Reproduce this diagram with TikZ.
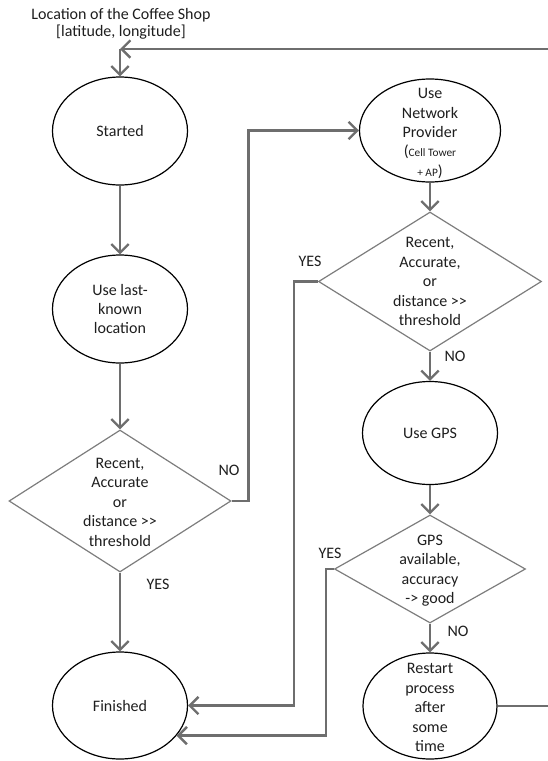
\documentclass[tikz,border=0pt]{standalone}
\usepackage{fontspec}
\setmainfont{Carlito}
\usetikzlibrary{shapes.geometric,arrows.meta}
\definecolor{connc}{RGB}{110,110,110}
\definecolor{diac}{RGB}{125,125,125}
\definecolor{txtc}{RGB}{30,30,30}
\begin{document}
\begin{tikzpicture}[x=0.75pt,y=-0.75pt,
  font=\fontsize{12}{14.6}\selectfont, text=txtc,
  elli/.style={ellipse,draw=black,line width=0.9pt,inner sep=0pt},
  dia/.style={diamond,draw=diac,line width=0.9pt,inner sep=0pt},
  flow/.style={draw=connc,line width=1.8pt,-{Straight Barb[length=6.5pt,width=13pt]}},
  lbl/.style={align=center,inner sep=0pt}]
\useasboundingbox (0,0) rectangle (547,761);

% title and loop corner
\node[lbl,font=\fontsize{12}{12.75}\selectfont] (title) at (121,23.5)
  {Location of the Coffee Shop\\{[latitude, longitude]}};
\coordinate (loopc) at (120,49);

% left column
\node[elli,minimum width=135*0.75pt,minimum height=108*0.75pt] (st) at (120,131) {Started};
\node[elli,minimum width=135*0.75pt,minimum height=108*0.75pt,align=center] (ul) at (120,309)
  {Use last-\\known\\location};
\node[dia,minimum width=222*0.75pt,minimum height=142*0.75pt] (d1) at (120,501) {};
\node[lbl] (d1t) at (120,502) {Recent,\\Accurate\\or\\distance >\kern0pt>\\threshold};
\node[elli,minimum width=135*0.75pt,minimum height=107*0.75pt] (fin) at (120,705.5) {Finished};

% right column
\node[elli,minimum width=141*0.75pt,minimum height=103*0.75pt] (np) at (430,130.5) {};
\node[lbl] (npt) at (430,133.5)
  {Use\\Network\\Provider\\({\fontsize{8.5}{10}\selectfont Cell Tower}\\{\fontsize{8.5}{10}\selectfont + AP})};
\node[dia,minimum width=223*0.75pt,minimum height=139*0.75pt] (d2) at (430,281.5) {};
\node[lbl] (d2t) at (430,281.5) {Recent,\\Accurate,\\or\\distance >\kern0pt>\\threshold};
\node[elli,minimum width=135*0.75pt,minimum height=103*0.75pt] (gps) at (430,433) {Use GPS};
\node[dia,minimum width=191*0.75pt,minimum height=108*0.75pt] (d3) at (430,569) {};
\node[lbl] (d3t) at (430,570.5) {GPS\\available,\\accuracy\\-> good};
\node[elli,minimum width=134*0.75pt,minimum height=106*0.75pt] (rs) at (430,706) {};
\node[lbl] (rst) at (430,707.5) {Restart\\process\\after\\some\\time};

% labels
\node[lbl] (no1) at (229,470) {NO};
\node[lbl] (yes1) at (158,584) {YES};
\node[lbl] (yes2) at (310,261) {YES};
\node[lbl] (no2) at (455,356) {NO};
\node[lbl] (yes3) at (330,553) {YES};
\node[lbl] (no3) at (458,631) {NO};

% connectors
\draw[flow] (loopc) -- (st.north);
\draw[flow] (st) -- (ul);
\draw[flow] (ul) -- (d1);
\draw[flow] (d1.east) -- ++(17,0) |- (np.west);
\draw[flow] (d1) -- (fin);
\draw[flow] (np) -- (d2);
\draw[flow] (d2.west) -- ++(-24,0) |- (fin.east);
\draw[flow] (d2) -- (gps);
\draw[flow] (gps) -- (d3);
\draw[flow] (d3.west) -- ++(-8,0) |- (fin.-28);
\draw[flow] (d3) -- (rs);
\coordinate (rr) at (553,706);
\draw[flow] (rs.east) -- (rr) |- (loopc);
\end{tikzpicture}
\end{document}
